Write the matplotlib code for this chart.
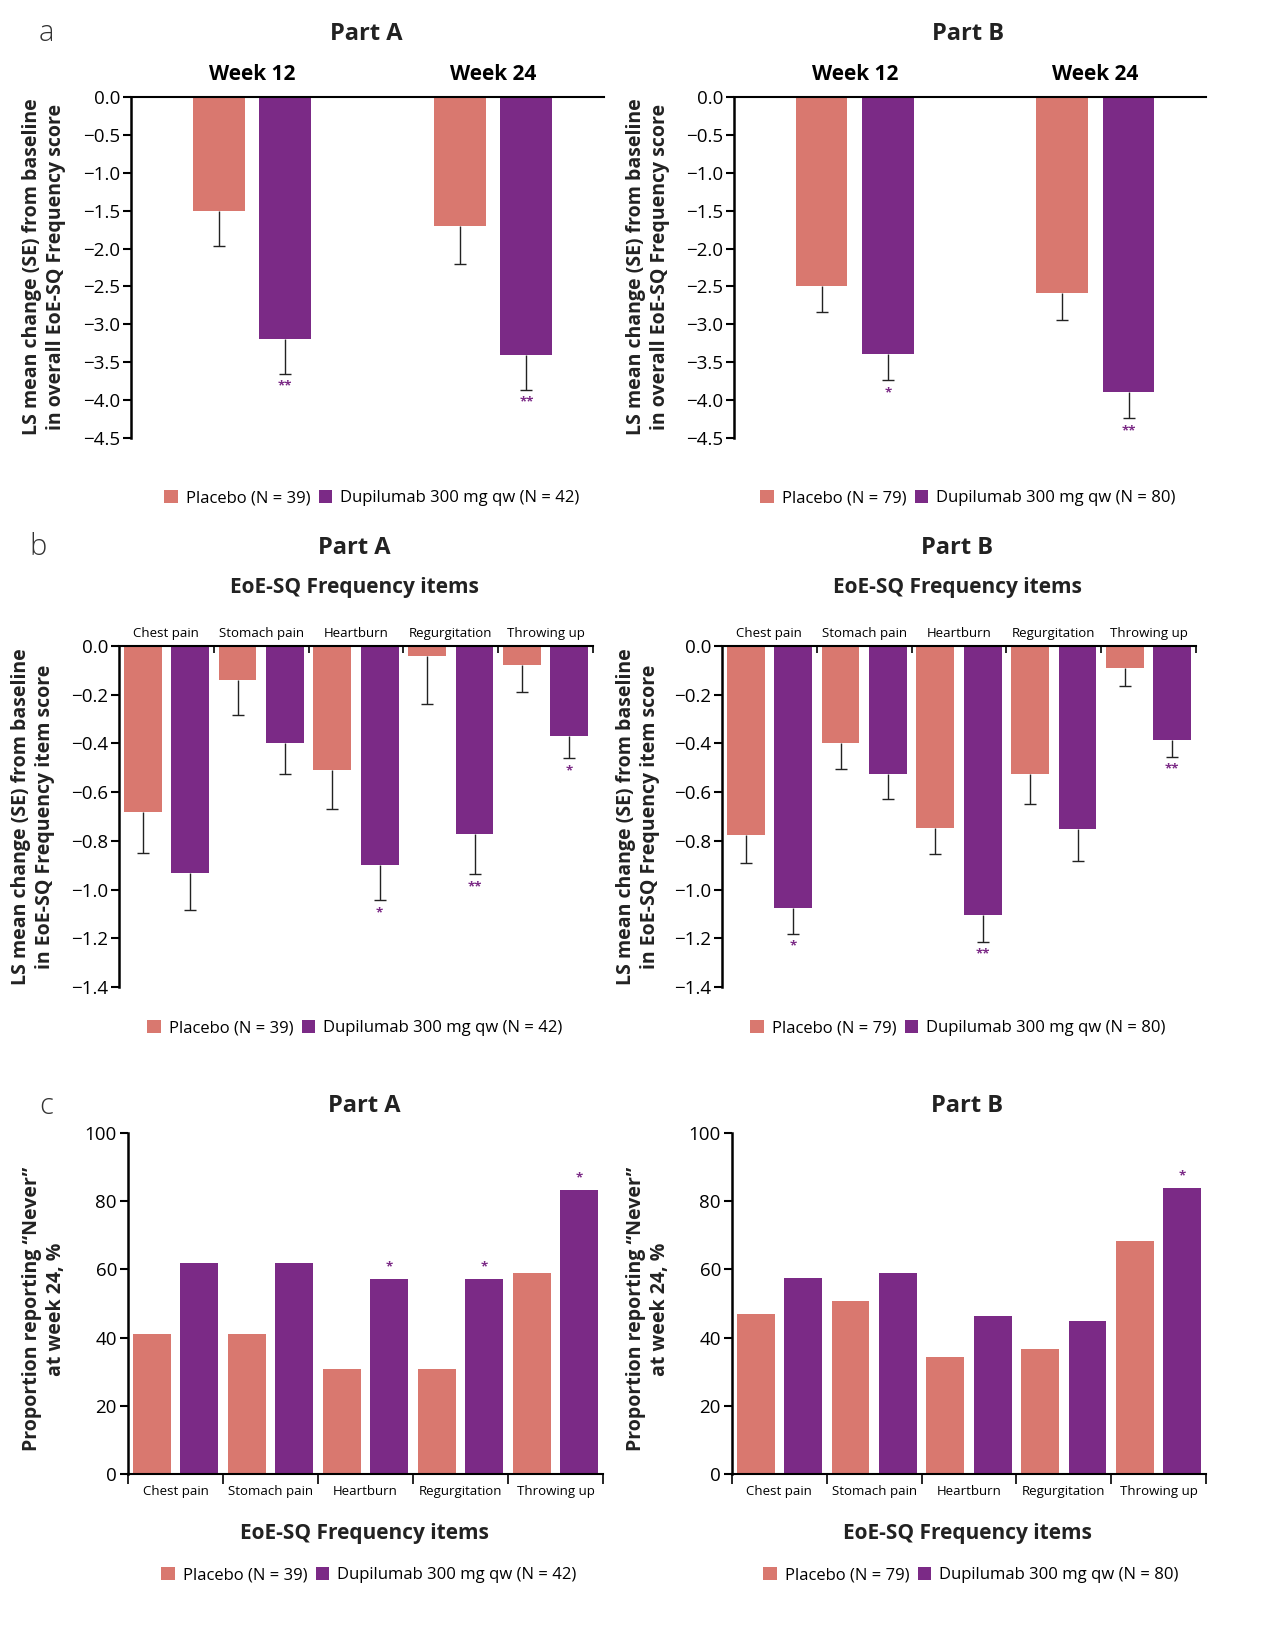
import numpy as np
import matplotlib.pyplot as plt
from matplotlib.ticker import FuncFormatter

plt.rcParams['font.family'] = ['Open Sans', 'DejaVu Sans']

# Farben
col_placebo = '#D9786F'
col_dupi = '#7B2A86'

weeks = ['Week 12', 'Week 24']
items = ['Chest pain', 'Stomach pain', 'Heartburn', 'Regurgitation', 'Throwing up']

# a) Gesamt-Score, LS mean change (SE)
a_A_placebo = [-1.50, -1.70]
a_A_placebo_se = [0.46, 0.51]
a_A_dupi = [-3.20, -3.40]
a_A_dupi_se = [0.45, 0.46]
a_A_stars = ['**', '**']

a_B_placebo = [-2.49, -2.59]
a_B_placebo_se = [0.35, 0.35]
a_B_dupi = [-3.39, -3.89]
a_B_dupi_se = [0.35, 0.35]
a_B_stars = ['*', '**']

# b) Einzel-Items, LS mean change (SE)
b_A_placebo = [-0.68, -0.14, -0.51, -0.04, -0.08]
b_A_placebo_se = [0.17, 0.145, 0.16, 0.197, 0.11]
b_A_dupi = [-0.93, -0.40, -0.90, -0.77, -0.37]
b_A_dupi_se = [0.155, 0.126, 0.144, 0.168, 0.09]
b_A_stars = ['', '', '*', '**', '*']

b_B_placebo = [-0.775, -0.398, -0.746, -0.524, -0.092]
b_B_placebo_se = [0.114, 0.105, 0.109, 0.126, 0.071]
b_B_dupi = [-1.076, -0.524, -1.106, -0.751, -0.384]
b_B_dupi_se = [0.105, 0.106, 0.108, 0.131, 0.07]
b_B_stars = ['*', '', '**', '', '**']

# c) Anteil "Never" in Woche 24, %
c_A_placebo = [41.0, 41.0, 30.8, 30.8, 59.0]
c_A_dupi = [61.9, 61.9, 57.1, 57.1, 83.3]
c_A_stars = ['', '', '*', '*', '*']

c_B_placebo = [46.8, 50.6, 34.2, 36.7, 68.4]
c_B_dupi = [57.5, 58.8, 46.3, 45.0, 83.8]
c_B_stars = ['', '', '', '', '*']

labels_A = ['Placebo (N = 39)', 'Dupilumab 300 mg qw (N = 42)']
labels_B = ['Placebo (N = 79)', 'Dupilumab 300 mg qw (N = 80)']

W, H = 1275, 1634
fig = plt.figure(figsize=(W / 100, H / 100), dpi=100)

TICK_SIZE = 13.5


def add_ax(l, t, r, b):
    return fig.add_axes([l / W, 1 - b / H, (r - l) / W, (b - t) / H])


def dec_fmt(v, p):
    if abs(v) < 1e-9:
        return '0.0'
    return f'{v:.1f}'.replace('-', '\u2212')


def err_down(ax, x, vals, se, stars):
    vals = np.array(vals)
    se = np.array(se)
    ax.vlines(x, vals, vals - se, color='#222222', lw=1.0, zorder=3)
    ax.plot(x, vals - se, ls='none', marker='_', ms=8, mew=1.0, color='#222222', zorder=3)
    if stars is not None:
        for xi, yi, s in zip(x, vals - se, stars):
            if s:
                ax.annotate(s, (xi, yi), xytext=(0, -9), textcoords='offset points',
                            ha='center', va='center', color=col_dupi, fontsize=9.5,
                            fontweight='bold')


def panel_a(ax, placebo, placebo_se, dupi, dupi_se, stars):
    x = np.arange(len(weeks))
    off, w = 0.138, 0.215
    ax.bar(x - off, placebo, w, color=col_placebo, zorder=2)
    ax.bar(x + off, dupi, w, color=col_dupi, zorder=2)
    err_down(ax, x - off, placebo, placebo_se, None)
    err_down(ax, x + off, dupi, dupi_se, stars)
    ax.set_xlim(-0.502, 1.46)
    ax.set_ylim(-4.5, 0)
    ax.set_yticks(np.arange(0, -4.51, -0.5))
    ax.yaxis.set_major_formatter(FuncFormatter(dec_fmt))
    ax.xaxis.tick_top()
    ax.set_xticks(x)
    ax.set_xticklabels(weeks, fontsize=15, fontweight='bold')
    ax.tick_params(axis='x', length=0, pad=9)
    ax.tick_params(axis='y', length=6, width=1.5, labelsize=TICK_SIZE, pad=2)
    for s in ['right', 'bottom']:
        ax.spines[s].set_visible(False)
    ax.spines['left'].set_linewidth(1.8)
    ax.spines['top'].set_linewidth(1.5)


def panel_b(ax, placebo, placebo_se, dupi, dupi_se, stars):
    x = np.arange(len(items))
    off, w = 0.25, 0.40
    ax.bar(x - off, placebo, w, color=col_placebo, zorder=2)
    ax.bar(x + off, dupi, w, color=col_dupi, zorder=2)
    err_down(ax, x - off, placebo, placebo_se, None)
    err_down(ax, x + off, dupi, dupi_se, stars)
    ax.set_xlim(-0.5, len(items) - 0.5)
    ax.set_ylim(-1.4, 0)
    ax.set_yticks(np.arange(0, -1.41, -0.2))
    ax.yaxis.set_major_formatter(FuncFormatter(dec_fmt))
    ax.xaxis.tick_top()
    ax.set_xticks(x + 0.5)
    ax.set_xticklabels([])
    ax.set_xticks(x, minor=True)
    ax.set_xticklabels(items, minor=True, fontsize=9.5)
    ax.tick_params(axis='x', which='major', direction='in', length=5, width=1.2)
    ax.tick_params(axis='x', which='minor', length=0, pad=4)
    ax.tick_params(axis='y', length=6, width=1.5, labelsize=TICK_SIZE, pad=2)
    for s in ['right', 'bottom']:
        ax.spines[s].set_visible(False)
    ax.spines['left'].set_linewidth(1.8)
    ax.spines['top'].set_linewidth(1.5)


def panel_c(ax, placebo, dupi, stars):
    x = np.arange(len(items))
    off, w = 0.25, 0.40
    ax.bar(x - off, placebo, w, color=col_placebo, zorder=2)
    ax.bar(x + off, dupi, w, color=col_dupi, zorder=2)
    for xi, yi, s in zip(x + off, dupi, stars):
        if s:
            ax.annotate(s, (xi, yi), xytext=(0, 9), textcoords='offset points',
                        ha='center', va='center', color=col_dupi, fontsize=9.5,
                        fontweight='bold')
    ax.set_xlim(-0.5, len(items) - 0.5)
    ax.set_ylim(0, 100)
    ax.set_yticks(np.arange(0, 101, 20))
    ax.set_xticks(np.arange(len(items) + 1) - 0.5)
    ax.set_xticklabels([])
    ax.set_xticks(x, minor=True)
    ax.set_xticklabels(items, minor=True, fontsize=9.5)
    ax.tick_params(axis='x', which='major', direction='out', length=7, width=1.2)
    ax.tick_params(axis='x', which='minor', length=0, pad=8)
    ax.tick_params(axis='y', length=6, width=1.5, labelsize=TICK_SIZE, pad=2)
    for s in ['right', 'top']:
        ax.spines[s].set_visible(False)
    ax.spines['left'].set_linewidth(1.8)
    ax.spines['bottom'].set_linewidth(1.5)


def legend(ax, labels, cx, cy):
    bars = list(ax.containers)[:2]
    fig.legend(bars, labels, loc='center', bbox_to_anchor=(cx / W, 1 - cy / H),
               ncol=2, frameon=False, fontsize=12, handlelength=0.8, handleheight=0.8,
               handletextpad=0.5, columnspacing=0.5, borderaxespad=0)


def ylabel(text, cx, cy):
    fig.text(cx / W, 1 - cy / H, text, rotation=90, ha='center', va='center',
             fontsize=14, fontweight='bold', linespacing=1.3, color='#222222')


def title(text, cx, cy, size=17):
    fig.text(cx / W, 1 - cy / H, text, ha='center', va='center', fontsize=size,
             fontweight='bold', color='#222222')


# Zeile a
ax1 = add_ax(131, 97, 604, 438)
panel_a(ax1, a_A_placebo, a_A_placebo_se, a_A_dupi, a_A_dupi_se, a_A_stars)
ax2 = add_ax(734, 97, 1206, 438)
panel_a(ax2, a_B_placebo, a_B_placebo_se, a_B_dupi, a_B_dupi_se, a_B_stars)
title('Part A', 366, 34)
title('Part B', 968, 34)
ylabel('LS mean change (SE) from baseline\nin overall EoE-SQ Frequency score', 44, 267)
ylabel('LS mean change (SE) from baseline\nin overall EoE-SQ Frequency score', 648, 267)
legend(ax1, labels_A, 372, 498)
legend(ax2, labels_B, 968, 498)

# Zeile b
ax3 = add_ax(119, 646, 593, 987)
panel_b(ax3, b_A_placebo, b_A_placebo_se, b_A_dupi, b_A_dupi_se, b_A_stars)
ax4 = add_ax(722, 646, 1196, 987)
panel_b(ax4, b_B_placebo, b_B_placebo_se, b_B_dupi, b_B_dupi_se, b_B_stars)
title('Part A', 354, 548)
title('Part B', 957, 548)
title('EoE-SQ Frequency items', 354, 587, size=15)
title('EoE-SQ Frequency items', 957, 587, size=15)
ylabel('LS mean change (SE) from baseline\nin EoE-SQ Frequency item score', 33, 817)
ylabel('LS mean change (SE) from baseline\nin EoE-SQ Frequency item score', 638, 817)
legend(ax3, labels_A, 355, 1028)
legend(ax4, labels_B, 958, 1028)

# Zeile c
ax5 = add_ax(128, 1133, 603, 1474)
panel_c(ax5, c_A_placebo, c_A_dupi, c_A_stars)
ax6 = add_ax(732, 1133, 1206, 1474)
panel_c(ax6, c_B_placebo, c_B_dupi, c_B_stars)
title('Part A', 364, 1106)
title('Part B', 967, 1106)
title('EoE-SQ Frequency items', 364, 1533, size=15)
title('EoE-SQ Frequency items', 967, 1533, size=15)
ylabel('Proportion reporting \u201cNever\u201d\nat week 24, %', 44, 1309)
ylabel('Proportion reporting \u201cNever\u201d\nat week 24, %', 648, 1309)
legend(ax5, labels_A, 369, 1575)
legend(ax6, labels_B, 971, 1575)

# Panel-Buchstaben
for letter, x, y in [('a', 46, 33), ('b', 38, 547), ('c', 46, 1106)]:
    fig.text(x / W, 1 - y / H, letter, ha='center', va='center', fontsize=21,
             fontweight='light', color='#333333')

fig.savefig('out.png', dpi=100)
